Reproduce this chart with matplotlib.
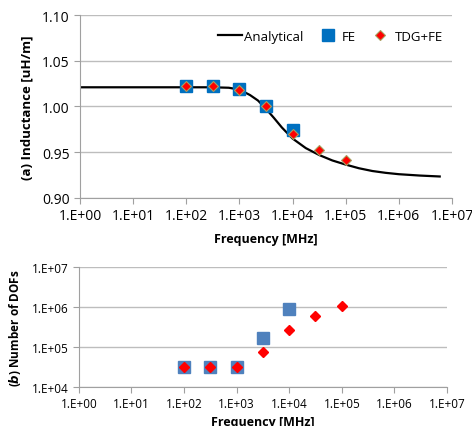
import math
import matplotlib.pyplot as plt
from matplotlib.ticker import FixedLocator, FuncFormatter

# frequencies [MHz]
freq_fe = [1e2, 10**2.5, 1e3, 10**3.5, 1e4]
freq_tdg = [1e2, 10**2.5, 1e3, 10**3.5, 1e4, 10**4.5, 1e5]

# (a) inductance [uH/m]
ind_fe = [1.022, 1.022, 1.019, 1.001, 0.974]
ind_tdg = [1.022, 1.022, 1.018, 1.000, 0.970, 0.952, 0.941]

# analytical curve
freq_an = [1e0, 1e1, 1e2, 10**2.5, 10**2.8, 1e3, 10**3.2, 10**3.35, 10**3.5, 10**3.65,
           10**3.8, 1e4, 10**4.25, 10**4.5, 10**4.75, 1e5, 10**5.25, 10**5.5, 10**5.75,
           1e6, 10**6.4, 10**6.77]
ind_an = [1.021, 1.021, 1.021, 1.021, 1.0205, 1.0185, 1.0125, 1.0065, 0.9975, 0.9875,
          0.977, 0.965, 0.9545, 0.947, 0.941, 0.9365, 0.9325, 0.9295, 0.9275,
          0.926, 0.9245, 0.9235]

# (b) number of DOFs
dof_fe = [3.15e4, 3.15e4, 3.15e4, 1.65e5, 8.9e5]
dof_tdg = [3.15e4, 3.15e4, 3.15e4, 7.4e4, 2.6e5, 5.9e5, 1.05e6]

plt.rcParams['font.family'] = ['Open Sans', 'DejaVu Sans']
plt.rcParams['mathtext.fontset'] = 'dejavusans'

fig = plt.figure(figsize=(4.72, 4.27), dpi=100)
ax1 = fig.add_axes([0.1695, 0.534, 0.788, 0.4285])
ax2 = fig.add_axes([0.167, 0.0913, 0.78, 0.2811])

decades = [10.0 ** k for k in range(8)]
efmt = FuncFormatter(lambda v, p: "1.E+%02d" % round(math.log10(v)))

def style(ax, fs):
    for s in ['top', 'right']:
        ax.spines[s].set_visible(False)
    for s in ['left', 'bottom']:
        ax.spines[s].set_color('#a0a0a0')
    ax.set_xscale('log')
    ax.set_xlim(1, 1e7)
    ax.xaxis.set_major_locator(FixedLocator(decades))
    ax.xaxis.set_minor_locator(FixedLocator([]))
    ax.xaxis.set_major_formatter(efmt)
    ax.yaxis.grid(True, color='#bdbdbd', lw=1)
    ax.set_axisbelow(True)
    ax.tick_params(axis='both', colors='#a0a0a0', labelcolor='black', labelsize=fs, length=4)

# ---- (a)
style(ax1, 10)
ax1.plot(freq_an, ind_an, color='black', lw=1.6, label='Analytical', zorder=2)
ax1.plot(freq_fe, ind_fe, 's', color='#0070C0', ms=8, label='FE', zorder=3)
ax1.plot(freq_tdg, ind_tdg, 'D', color='#FF0000', mec='#A8A060', mew=0.8, ms=5, label='TDG+FE', zorder=4)
ax1.set_ylim(0.90, 1.10)
ax1.set_yticks([0.90, 0.95, 1.00, 1.05, 1.10])
ax1.yaxis.set_major_formatter(FuncFormatter(lambda v, p: "%.2f" % v))
ax1.set_xlabel('Frequency [MHz]', fontsize=9, fontweight='bold', labelpad=6)
ax1.set_ylabel('(a) Inductance [uH/m]', fontsize=9.5, fontweight='bold', labelpad=6)
ax1.legend(loc='upper right', ncol=3, frameon=False, fontsize=9.5, handlelength=1.8,
           handletextpad=0.2, columnspacing=0.9, borderaxespad=0.3,
           bbox_to_anchor=(1.0, 0.97))

# ---- (b)
style(ax2, 8.5)
ax2.set_yscale('log')
ax2.set_ylim(1e4, 1e7)
ax2.yaxis.set_major_locator(FixedLocator([1e4, 1e5, 1e6, 1e7]))
ax2.yaxis.set_minor_locator(FixedLocator([]))
ax2.yaxis.set_major_formatter(efmt)
ax2.plot(freq_fe, dof_fe, 's', color='#4F81BD', ms=8, zorder=3)
ax2.plot(freq_tdg, dof_tdg, 'D', color='#FF0000', ms=5, zorder=4)
ax2.set_xlabel('Frequency [MHz]', fontsize=9, fontweight='bold', labelpad=3)
ax2.set_ylabel(r'($\mathbfit{b}$) Number of DOFs', fontsize=8.5, fontweight='bold', labelpad=6)

fig.savefig('out.png', dpi=100)
